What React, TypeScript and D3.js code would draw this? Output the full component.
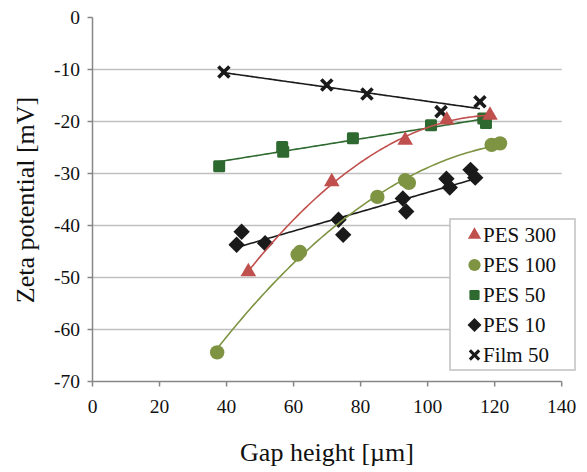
import React from "react";
import * as d3 from "d3";

const xTicks = [0, 20, 40, 60, 80, 100, 120, 140];
const yTicks = [0, -10, -20, -30, -40, -50, -60, -70];

const pes300X = [46.5, 71.4, 93.3, 105.7, 118.6];
const pes300Y = [-48.9, -31.6, -23.6, -19.7, -18.8];

const pes100X = [37.2, 61.2, 61.9, 85.0, 93.3, 94.4, 119.1, 121.6];
const pes100Y = [-64.4, -45.6, -45.1, -34.5, -31.3, -31.8, -24.5, -24.2];

const pes50X = [37.8, 56.6, 56.9, 77.7, 101.0, 116.6, 117.4];
const pes50Y = [-28.6, -24.9, -25.8, -23.2, -20.7, -19.4, -20.3];

const pes10X = [43.0, 44.5, 51.5, 73.4, 74.8, 92.6, 93.6, 105.6, 106.6, 112.8, 114.2];
const pes10Y = [-43.7, -41.2, -43.4, -38.9, -41.8, -34.8, -37.3, -31.0, -32.7, -29.3, -30.8];

const film50X = [39.2, 69.9, 81.9, 104.0, 115.6];
const film50Y = [-10.5, -13.0, -14.7, -18.1, -16.2];

const seriesNames = ["PES 300", "PES 100", "PES 50", "PES 10", "Film 50"];

type Sym = "triangle" | "circle" | "square" | "diamond" | "x";

const W = 587;
const H = 472;
const x = d3.scaleLinear().domain([0, 140]).range([92.5, 561.7]);
const y = d3.scaleLinear().domain([0, -70]).range([17.5, 381.5]);

function fitPoly(xs: number[], ys: number[], deg: number): number[] {
  const n = deg + 1;
  const A: number[][] = [];
  for (let i = 0; i < n; i++) {
    const row: number[] = [];
    for (let j = 0; j < n; j++) row.push(d3.sum(xs, (v) => Math.pow(v, i + j)));
    row.push(d3.sum(xs, (v, k) => Math.pow(v, i) * ys[k]));
    A.push(row);
  }
  for (let c = 0; c < n; c++) {
    let p = c;
    for (let r = c + 1; r < n; r++) if (Math.abs(A[r][c]) > Math.abs(A[p][c])) p = r;
    [A[c], A[p]] = [A[p], A[c]];
    for (let r = 0; r < n; r++) {
      if (r === c) continue;
      const f = A[r][c] / A[c][c];
      for (let k = c; k <= n; k++) A[r][k] -= f * A[c][k];
    }
  }
  return A.map((row, i) => row[n] / row[i]);
}

function trendPath(xs: number[], ys: number[], deg: number): string {
  const coef = fitPoly(xs, ys, deg);
  const [lo, hi] = d3.extent(xs) as [number, number];
  const pts: [number, number][] = d3.range(0, 101).map((i) => {
    const xv = lo + ((hi - lo) * i) / 100;
    const yv = coef.reduce((s, c, k) => s + c * Math.pow(xv, k), 0);
    return [x(xv), y(yv)];
  });
  return d3.line()(pts) || "";
}

function Marker({ sym, cx, cy, color }: { sym: Sym; cx: number; cy: number; color: string }) {
  if (sym === "triangle") {
    return <path d={d3.symbol(d3.symbolTriangle, 105)() || ""} transform={`translate(${cx},${cy})`} fill={color} />;
  }
  if (sym === "circle") {
    return <circle cx={cx} cy={cy} r={7.2} fill={color} />;
  }
  if (sym === "square") {
    return <rect x={cx - 6} y={cy - 6} width={12} height={12} rx={1.5} fill={color} />;
  }
  if (sym === "diamond") {
    const r = 8.2;
    return <path d={`M${cx},${cy - r}L${cx + r},${cy}L${cx},${cy + r}L${cx - r},${cy}Z`} fill={color} />;
  }
  const s = 5.5;
  return (
    <g stroke={color} strokeWidth={3.6}>
      <line x1={cx - s} y1={cy - s} x2={cx + s} y2={cy + s} />
      <line x1={cx - s} y1={cy + s} x2={cx + s} y2={cy - s} />
    </g>
  );
}

const series = [
  { name: seriesNames[0], xs: pes300X, ys: pes300Y, color: "#c0504d", sym: "triangle" as Sym, deg: 2 },
  { name: seriesNames[1], xs: pes100X, ys: pes100Y, color: "#7e9443", sym: "circle" as Sym, deg: 2 },
  { name: seriesNames[2], xs: pes50X, ys: pes50Y, color: "#2e6930", sym: "square" as Sym, deg: 1 },
  { name: seriesNames[3], xs: pes10X, ys: pes10Y, color: "#1a1a1a", sym: "diamond" as Sym, deg: 1 },
  { name: seriesNames[4], xs: film50X, ys: film50Y, color: "#1a1a1a", sym: "x" as Sym, deg: 1 },
];

export default function App() {
  const font = "'Liberation Serif', 'Times New Roman', serif";
  const axisColor = "#868686";
  const drawOrder = [4, 3, 2, 1, 0];
  return (
    <svg width={W} height={H} style={{ position: "absolute", left: 0, top: 0, background: "#fff", fontFamily: font }}>
      <rect width={W} height={H} fill="#fff" />
      {yTicks.filter((t) => t !== 0 && t !== -70).map((t) => (
        <line key={t} x1={x(0)} x2={x(140)} y1={y(t)} y2={y(t)} stroke="#c0c0c0" strokeWidth={1.5} />
      ))}
      <line x1={x(0)} x2={x(0)} y1={y(0)} y2={y(-70)} stroke={axisColor} strokeWidth={1.5} />
      <line x1={x(0)} x2={x(140)} y1={y(-70)} y2={y(-70)} stroke={axisColor} strokeWidth={1.5} />
      {yTicks.map((t) => (
        <g key={t}>
          <line x1={x(0) - 5} x2={x(0)} y1={y(t)} y2={y(t)} stroke={axisColor} strokeWidth={1.5} />
          <text x={80} y={y(t)} dy="0.35em" textAnchor="end" fontSize={19.5} fill="#111">
            {t}
          </text>
        </g>
      ))}
      {xTicks.map((t) => (
        <g key={t}>
          <line x1={x(t)} x2={x(t)} y1={y(-70)} y2={y(-70) + 5} stroke={axisColor} strokeWidth={1.5} />
          <text x={x(t)} y={413} textAnchor="middle" fontSize={19.5} fill="#111">
            {t}
          </text>
        </g>
      ))}
      <text x={327} y={461} textAnchor="middle" fontSize={26} fill="#111">
        Gap height [µm]
      </text>
      <text transform={`translate(34,200) rotate(-90)`} textAnchor="middle" fontSize={26} fill="#111">
        Zeta potential [mV]
      </text>
      {drawOrder.map((i) => {
        const s = series[i];
        return (
          <g key={s.name}>
            <path d={trendPath(s.xs, s.ys, s.deg)} fill="none" stroke={s.color} strokeWidth={1.6} />
            {s.xs.map((xv, k) => (
              <Marker key={k} sym={s.sym} cx={x(xv)} cy={y(s.ys[k])} color={s.color} />
            ))}
          </g>
        );
      })}
      <rect x={450} y={219} width={125} height={151} fill="#fff" stroke="#c0c0c0" strokeWidth={1.5} />
      {series.map((s, i) => {
        const cy = 235 + i * 30;
        return (
          <g key={s.name}>
            <g transform={`translate(${474.5},${cy}) scale(0.85) translate(${-474.5},${-cy})`}>
              <Marker sym={s.sym} cx={474.5} cy={cy} color={s.color} />
            </g>
            <text x={483} y={cy} dy="0.35em" fontSize={21} fill="#111">
              {s.name}
            </text>
          </g>
        );
      })}
    </svg>
  );
}
